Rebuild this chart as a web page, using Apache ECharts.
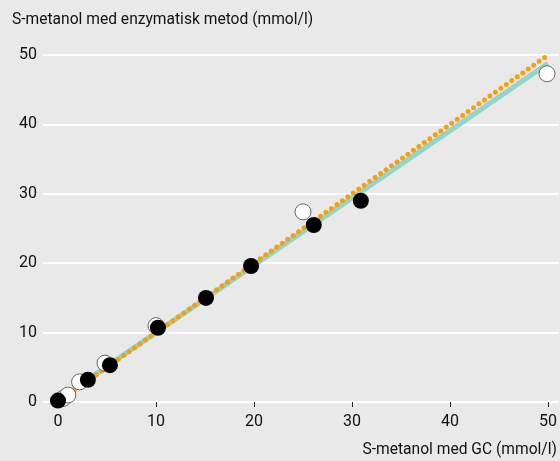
<!DOCTYPE html>
<html>
<head>
<meta charset="utf-8">
<script src="https://cdn.jsdelivr.net/npm/echarts@6/dist/echarts.min.js"></script>
<style>
  html, body { margin: 0; padding: 0; background: #e9e9e9; }
  #chart { width: 560px; height: 461px; }
</style>
</head>
<body>
<div id="chart"></div>
<script>
// mätpunkter (GC, enzymatisk)
const blackX = [0, 3.05, 5.3, 10.2, 15.1, 19.7, 26.1, 30.9];
const blackY = [0.2, 3.2, 5.3, 10.7, 15.0, 19.6, 25.5, 29.0];
const whiteX = [0.5, 1.0, 2.2, 4.8, 10.0, 25.0, 49.9];
const whiteY = [0.5, 1.0, 2.9, 5.6, 11.0, 27.4, 47.3];
// regressionslinje och identitetslinje
const fitX = [0, 50];
const fitY = [0.3, 48.8];
const idX = [0, 50];
const idY = [0, 50];
const tickValues = [0, 10, 20, 30, 40, 50];

const font = 'Roboto, sans-serif';
const pairs = (xs, ys) => xs.map((x, i) => [x, ys[i]]);

const myChart = echarts.init(document.getElementById('chart'));
myChart.setOption({
  backgroundColor: '#e9e9e9',
  animation: false,
  grid: { left: 43, right: 0, top: 55, bottom: 59 },
  xAxis: {
    type: 'value',
    min: -1.53,
    max: 51.12,
    axisLine: { show: false },
    splitLine: { show: false },
    axisTick: { show: true, length: 5, lineStyle: { color: '#222', width: 1 }, customValues: tickValues },
    axisLabel: { margin: 12, color: '#111', fontSize: 16, fontFamily: font, customValues: tickValues },
  },
  yAxis: {
    type: 'value',
    min: 0,
    max: 50,
    interval: 10,
    axisLine: { show: false },
    axisTick: { show: false },
    axisLabel: { margin: 6, color: '#111', fontSize: 16, fontFamily: font },
    splitLine: { lineStyle: { color: '#ffffff', width: 2 } },
  },
  graphic: [
    {
      type: 'text', left: 12, top: 12,
      style: { text: 'S-metanol med enzymatisk metod (mmol/l)', fill: '#111', font: '15.6px ' + font },
    },
    {
      type: 'text', right: 3, top: 442,
      style: { text: 'S-metanol med GC (mmol/l)', fill: '#111', font: '15.6px ' + font },
    },
  ],
  series: [
    {
      type: 'line',
      data: pairs(fitX, fitY),
      symbol: 'none',
      clip: false,
      lineStyle: { color: '#95d4ca', width: 5 },
      z: 1,
    },
    {
      type: 'line',
      data: pairs(idX, idY),
      symbol: 'none',
      clip: false,
      lineStyle: { color: '#f5a10f', width: 5, type: [0, 6.7], cap: 'round' },
      z: 2,
    },
    {
      type: 'scatter',
      data: pairs(whiteX, whiteY),
      symbolSize: 16,
      clip: false,
      itemStyle: { color: '#ffffff', borderColor: '#666', borderWidth: 1, opacity: 1 },
      z: 3,
    },
    {
      type: 'scatter',
      data: pairs(blackX, blackY),
      symbolSize: 16,
      clip: false,
      itemStyle: { color: '#000000', opacity: 1 },
      z: 4,
    },
  ],
});
</script>
</body>
</html>
